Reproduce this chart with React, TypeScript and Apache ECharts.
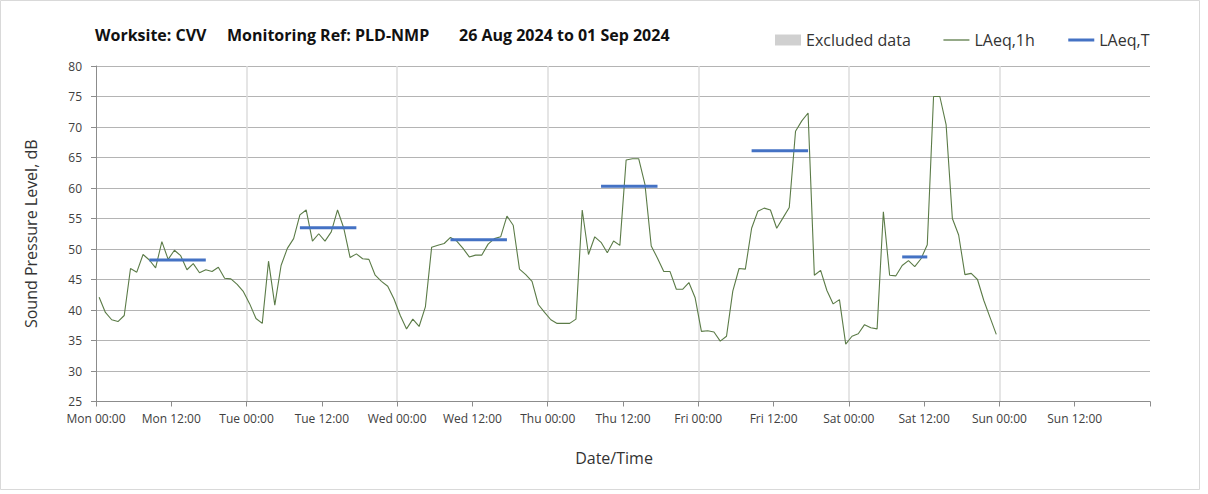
import React, { useEffect, useRef } from "react";
import * as echarts from "echarts";

// Hourly LAeq,1h values (dB), Mon 00:00 onwards, one per hour
const laeq1h: number[] = [
  42.1, 39.6, 38.4, 38.1, 39.1, 46.8, 46.2, 49.1, 48.2, 46.9, 51.2, 48.3,
  49.8, 48.9, 46.6, 47.6, 46.1, 46.6, 46.3, 47.0, 45.2, 45.1, 44.2, 43.0,
  41.0, 38.6, 37.8, 48.0, 40.8, 47.3, 50.1, 51.7, 55.6, 56.4, 51.3, 52.5,
  51.3, 52.8, 56.4, 53.4, 48.6, 49.2, 48.4, 48.3, 45.7, 44.7, 43.9, 41.8,
  39.1, 36.9, 38.5, 37.3, 40.5, 50.3, 50.6, 50.9, 51.9, 51.3, 50.1, 48.7,
  49.0, 49.0, 50.8, 51.7, 52.0, 55.4, 53.9, 46.7, 45.8, 44.7, 40.9, 39.6,
  38.4, 37.8, 37.8, 37.8, 38.5, 56.4, 49.1, 52.0, 51.1, 49.4, 51.3, 50.6,
  64.6, 64.8, 64.8, 60.6, 50.5, 48.5, 46.3, 46.3, 43.4, 43.4, 44.5, 42.0,
  36.5, 36.6, 36.4, 34.9, 35.7, 43.1, 46.8, 46.7, 53.4, 56.2, 56.7, 56.4,
  53.4, 55.1, 56.8, 69.3, 71.0, 72.3, 45.7, 46.5, 43.2, 41.0, 41.7, 34.4,
  35.7, 36.1, 37.6, 37.1, 36.9, 56.1, 45.7, 45.6, 47.3, 48.1, 47.1, 48.4,
  50.7, 75.0, 75.0, 70.4, 55.0, 52.3, 45.8, 46.0, 45.0, 41.6, 38.8, 36.0,
];

// LAeq,T periods (first and last hour index) and levels
const periodStart: number[] = [8, 32, 56, 80, 104, 128];
const periodEnd: number[] = [17, 41, 65, 89, 113, 132];
const laeqT: number[] = [48.2, 53.5, 51.5, 60.3, 66.1, 48.7];

const dayNames: string[] = ["Mon", "Tue", "Wed", "Thu", "Fri", "Sat", "Sun"];
const yTicks = { min: 25, max: 80, interval: 5 };

const titleParts: string[] = ["Worksite: CVV", "Monitoring Ref: PLD-NMP", "26 Aug 2024 to 01 Sep 2024"];

const FONT = "'Open Sans', 'Noto Sans', sans-serif";
const GREEN = "#5b7b47";
const BLUE = "#4472C4";

export default function App() {
  const ref = useRef<HTMLDivElement>(null);

  useEffect(() => {
    if (!ref.current) return;
    const chart = echarts.init(ref.current, undefined, { renderer: "svg" });

    const hourlyData = laeq1h.map((v, i) => [i + 0.5, v]);
    const tSeries = laeqT.map((v, k) => ({
      name: "LAeq,T",
      type: "line",
      xAxisIndex: 0,
      yAxisIndex: 0,
      symbol: "none",
      lineStyle: { color: BLUE, width: 3, cap: "butt" },
      itemStyle: { color: BLUE },
      data: [
        [periodStart[k] + 0.5, v],
        [periodEnd[k] + 0.5, v],
      ],
      z: 3,
    }));

    const titleLefts = [95, 227, 459];
    const option: any = {
      animation: false,
      backgroundColor: "#ffffff",
      textStyle: { fontFamily: FONT },
      title: titleParts.map((t, i) => ({
        text: t,
        left: titleLefts[i],
        top: 27,
        padding: 0,
        textStyle: { fontSize: 16, fontWeight: "bold", color: "#111111", fontFamily: FONT },
      })),
      graphic: [
        {
          type: "rect",
          shape: { x: 0.5, y: 0.5, width: 1199, height: 489 },
          style: { fill: "none", stroke: "#d9d9d9", lineWidth: 1 },
          silent: true,
          z: -1,
        },
      ],
      legend: {
        left: 770,
        top: 27,
        itemWidth: 26,
        itemHeight: 11,
        itemGap: 32,
        textStyle: { fontSize: 16, color: "#333333", fontFamily: FONT },
        data: [
          { name: "Excluded data", icon: "rect", itemStyle: { color: "#d0d0d0" } },
          { name: "LAeq,1h", itemStyle: { opacity: 0 }, lineStyle: { color: GREEN, width: 1.3 } },
          { name: "LAeq,T", itemStyle: { opacity: 0 }, lineStyle: { color: BLUE, width: 3 } },
        ],
      },
      grid: { left: 96, right: 58, top: 66, bottom: 92.5, containLabel: false },
      xAxis: [
        {
          type: "value",
          min: 0,
          max: 168,
          interval: 12,
          name: "Date/Time",
          nameLocation: "middle",
          nameGap: 48,
          nameTextStyle: { fontSize: 16, color: "#333333", fontFamily: FONT, padding: [0, 18, 0, 0] },
          axisLine: { show: true, lineStyle: { color: "#8c8c8c", width: 1 } },
          axisTick: { show: true, length: 5, lineStyle: { color: "#8c8c8c" } },
          axisLabel: {
            fontSize: 12,
            lineHeight: 14,
            color: "#404040",
            margin: 10,
            fontFamily: FONT,
            formatter: (v: number) => {
              const d = Math.floor(v / 24);
              if (d >= dayNames.length) return "";
              return dayNames[d] + " " + (v % 24 === 0 ? "00:00" : "12:00");
            },
          },
          splitLine: { show: false },
        },
        {
          type: "value",
          min: 0,
          max: 168,
          interval: 24,
          position: "bottom",
          axisLine: { show: false },
          axisTick: { show: false },
          axisLabel: { show: false },
          splitLine: {
            show: true,
            showMinLine: false,
            showMaxLine: false,
            lineStyle: { color: "#dcdcdc", width: 1.5 },
          },
        },
      ],
      yAxis: {
        type: "value",
        min: yTicks.min,
        max: yTicks.max,
        interval: yTicks.interval,
        name: "Sound Pressure Level, dB",
        nameLocation: "middle",
        nameGap: 57,
        nameRotate: 90,
        nameTextStyle: { fontSize: 16, color: "#333333", fontFamily: FONT },
        axisLine: { show: true, lineStyle: { color: "#8c8c8c", width: 1 } },
        axisTick: { show: true, length: 5, lineStyle: { color: "#8c8c8c" } },
        axisLabel: { fontSize: 12, lineHeight: 12, color: "#404040", margin: 14, fontFamily: FONT },
        splitLine: { show: true, lineStyle: { color: "#b4b4b4", width: 1 } },
      },
      series: [
        {
          name: "Excluded data",
          type: "bar",
          data: [],
          itemStyle: { color: "#d0d0d0" },
        },
        {
          name: "LAeq,1h",
          type: "line",
          xAxisIndex: 0,
          symbol: "none",
          lineStyle: { color: GREEN, width: 1.1 },
          itemStyle: { color: GREEN },
          data: hourlyData,
          z: 2,
        },
        ...tSeries,
      ],
    };

    chart.setOption(option);
    return () => chart.dispose();
  }, []);

  return (
    <div
      ref={ref}
      style={{ position: "absolute", left: 0, top: 0, width: 1208, height: 494, background: "#fff" }}
    />
  );
}
